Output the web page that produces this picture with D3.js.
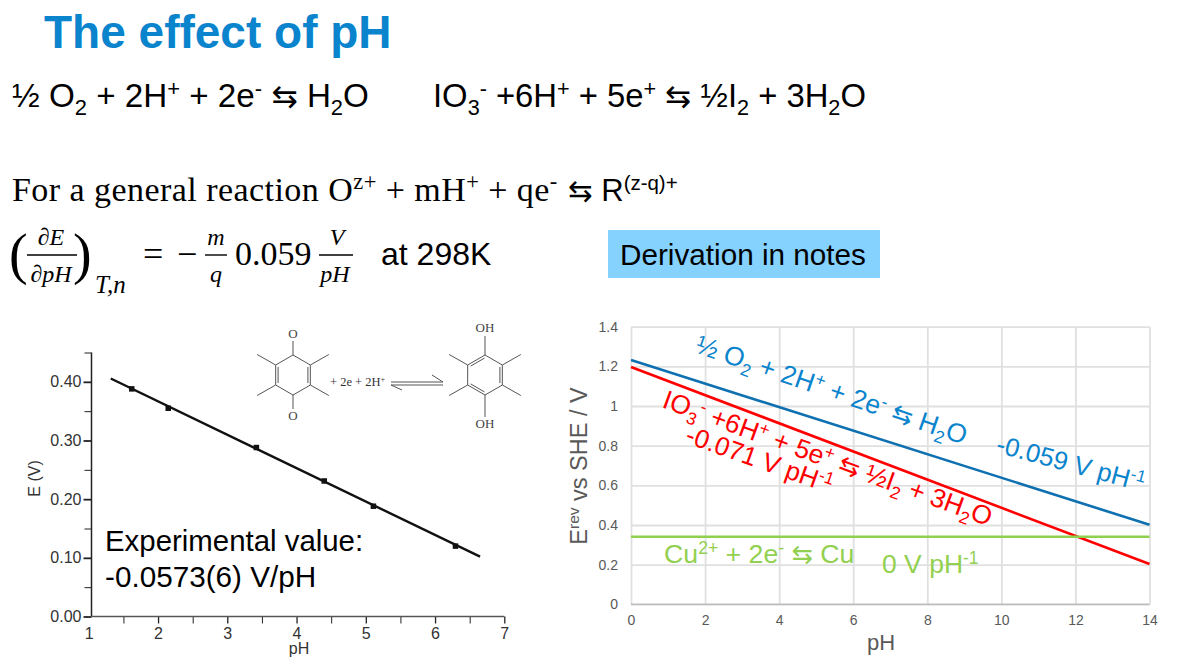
<!DOCTYPE html>
<html>
<head>
<meta charset="utf-8">
<script src="https://cdn.jsdelivr.net/npm/d3@7/dist/d3.min.js"></script>
<style>
  html, body { margin: 0; padding: 0; background: #fff; }
  svg { display: block; font-family: "Liberation Sans", Arial, sans-serif; }
</style>
</head>
<body>
<svg id="slide" width="1180" height="668"></svg>
<script>
// Quinone couple: measured potentials against pH, with the fitted line
const quinonePH = [1.62, 2.147, 3.42, 4.40, 5.11, 6.295];
const quinoneE = [0.388, 0.355, 0.288, 0.231, 0.188, 0.12];
const fitPH = [1.317, 6.65];
const fitE = [0.4057, 0.102];

// Reversible potentials against pH at the ends of the 0-14 range
const rangePH = [0, 14];
const oxygenE = [1.232, 0.401];
const iodateE = [1.197, 0.203];
const copperE = [0.341, 0.341];

// Tick values
const leftXTicks = [1, 2, 3, 4, 5, 6, 7];
const leftXMinor = [1.5, 2.5, 3.5, 4.5, 5.5, 6.5];
const leftYTicks = [0, 0.1, 0.2, 0.3, 0.4];
const leftYMinor = [0.05, 0.15, 0.25, 0.35, 0.45];
const rightXTicks = [0, 2, 4, 6, 8, 10, 12, 14];
const rightYTicks = [0, 0.2, 0.4, 0.6, 0.8, 1, 1.2, 1.4];

const ARROWS = "\u21C6";
const svg = d3.select("#slide");

// Writes a run list [text, kind] as tspans; kind is "sub", "sup", "sym" or empty
function rich(sel, runs, size) {
  const small = size * 0.66;
  let shift = 0;
  runs.forEach(([t, kind]) => {
    const want = kind === "sub" ? size * 0.24 : kind === "sup" ? -size * 0.34 : 0;
    const ts = sel.append("tspan").text(t).attr("dy", want - shift);
    if (kind === "sub" || kind === "sup") ts.attr("font-size", small);
    if (kind === "sym") ts.attr("font-family", "DejaVu Sans").attr("font-size", size * 0.95);
    shift = want;
  });
  return sel;
}

function label(parent, x, y, runs, size, fill, rotate, extra) {
  const t = parent.append("text").attr("font-size", size).attr("fill", fill);
  t.attr("transform", `translate(${x},${y})` + (rotate ? ` rotate(${rotate})` : ""));
  if (extra) Object.entries(extra).forEach(([k, v]) => t.attr(k, v));
  return rich(t, runs, size);
}

// ---- Heading and equations ----
label(svg, 44, 48, [["The effect of pH"]], 46, "#0a84cc", 0, { "font-weight": 700 });

label(svg, 12, 107, [["½ O"], ["2", "sub"], [" + 2H"], ["+", "sup"], [" + 2e"], ["-", "sup"], [" "], [ARROWS, "sym"], [" H"], ["2", "sub"], ["O"]], 33.2, "#000");
label(svg, 433, 107, [["IO"], ["3", "sub"], ["-", "sup"], [" +6H"], ["+", "sup"], [" + 5e"], ["+", "sup"], [" "], [ARROWS, "sym"], [" ½I"], ["2", "sub"], [" + 3H"], ["2", "sub"], ["O"]], 32.8, "#000");

label(svg, 12, 201, [["For a general reaction O"], ["z+", "sup"], [" + mH"], ["+", "sup"], [" + qe"], ["-", "sup"]], 34, "#000", 0, { "font-family": "Liberation Serif", "letter-spacing": 0.45 });
label(svg, 568, 201, [[ARROWS, "sym"], [" R"], ["(z-q)+", "sup"]], 31, "#000");

// Partial derivative expression
const math = svg.append("g").attr("font-family", "Liberation Serif").attr("font-style", "italic").attr("fill", "#000");
const mathText = (x, y, s, size, anchor) => math.append("text").attr("x", x).attr("y", y).attr("font-size", size)
  .attr("text-anchor", anchor || "middle").text(s);
const rule = (x1, x2, y) => math.append("line").attr("x1", x1).attr("x2", x2).attr("y1", y).attr("y2", y)
  .attr("stroke", "#000").attr("stroke-width", 1.4);
mathText(51, 245, "∂E", 24);
rule(27, 77, 255);
mathText(51, 282, "∂pH", 24);
mathText(9, 273, "(", 56, "start").attr("font-style", "normal");
mathText(73, 273, ")", 56, "start").attr("font-style", "normal");
mathText(95, 293, "T,n", 25, "start");
mathText(143, 266, "=", 36, "start").attr("font-style", "normal");
mathText(177, 266, "−", 36, "start").attr("font-style", "normal");
mathText(216, 245, "m", 24);
rule(205, 227, 255);
mathText(216, 282, "q", 24);
mathText(235, 265, "0.059", 34, "start").attr("font-style", "normal");
mathText(337, 245, "V", 24);
rule(319, 353, 255);
mathText(335, 282, "pH", 24);
label(svg, 381, 265, [["at 298K"]], 32, "#000");

// Note box
svg.append("rect").attr("x", 608).attr("y", 230).attr("width", 272).attr("height", 48).attr("fill", "#85d2ff");
label(svg, 620, 265, [["Derivation in notes"]], 29.7, "#000");

// ---- Left chart: quinone couple ----
const lx = d3.scaleLinear().domain([1, 7]).range([88.8, 504.3]);
const ly = d3.scaleLinear().domain([0, 0.45]).range([616.5, 352.5]);
const yAxisX = 91.5;
const left = svg.append("g");

function styleLeftAxis(a, tickWidth) {
  a.selectAll("line").attr("stroke", "#222").attr("stroke-width", tickWidth);
  a.selectAll("text").attr("font-size", 16).attr("fill", "#333").attr("font-family", "Liberation Sans");
  a.select(".domain").remove();
}
const xMinorAxis = left.append("g").attr("transform", `translate(0,${ly(0)})`)
  .call(d3.axisBottom(lx).tickValues(leftXMinor).tickSize(7).tickFormat(""));
styleLeftAxis(xMinorAxis, 1);
const xMajorAxis = left.append("g").attr("transform", `translate(0,${ly(0)})`)
  .call(d3.axisBottom(lx).tickValues(leftXTicks).tickSize(7).tickPadding(4).tickFormat(d3.format("d")));
styleLeftAxis(xMajorAxis, 1.3);
xMajorAxis.selectAll(".tick").filter(d => d === 1).select("line").remove();

const yMinorAxis = left.append("g").attr("transform", `translate(${yAxisX},0)`)
  .call(d3.axisLeft(ly).tickValues(leftYMinor).tickSize(7).tickFormat(""));
styleLeftAxis(yMinorAxis, 1);
const yMajorAxis = left.append("g").attr("transform", `translate(${yAxisX},0)`)
  .call(d3.axisLeft(ly).tickValues(leftYTicks).tickSize(8).tickPadding(2).tickFormat(d3.format(".2f")));
styleLeftAxis(yMajorAxis, 1.8);

// Axis lines run from the corner to the last tick on each side
left.append("line").attr("x1", yAxisX).attr("x2", yAxisX).attr("y1", ly(0.45)).attr("y2", ly(0))
  .attr("stroke", "#222").attr("stroke-width", 1.5);
left.append("line").attr("x1", yAxisX).attr("x2", lx(7)).attr("y1", ly(0)).attr("y2", ly(0))
  .attr("stroke", "#555").attr("stroke-width", 1.6);

left.append("path")
  .datum(d3.zip(fitPH, fitE))
  .attr("d", d3.line().x(d => lx(d[0])).y(d => ly(d[1])))
  .attr("fill", "none").attr("stroke", "#111").attr("stroke-width", 2.4);

const pointSize = 5.5;
left.selectAll("rect.pt").data(d3.zip(quinonePH, quinoneE)).join("rect")
  .attr("class", "pt")
  .attr("x", d => lx(d[0]) - pointSize / 2).attr("y", d => ly(d[1]) - pointSize / 2)
  .attr("width", pointSize).attr("height", pointSize).attr("fill", "#111");

left.append("text").attr("x", 299).attr("y", 654).attr("text-anchor", "middle")
  .attr("font-size", 16).attr("fill", "#333").text("pH");
left.append("text").attr("transform", "translate(40,478.5) rotate(-90)").attr("text-anchor", "middle")
  .attr("font-size", 16).attr("fill", "#333").text("E (V)");

label(left, 105, 551, [["Experimental value:"]], 29.4, "#000");
label(left, 105, 587, [["-0.0573(6) V/pH"]], 29.7, "#000");

// ---- Reaction scheme: duroquinone to durohydroquinone ----
const scheme = svg.append("g");
const bondColor = "#555";
const bond = (x1, y1, x2, y2, w) => scheme.append("line")
  .attr("x1", x1).attr("y1", y1).attr("x2", x2).attr("y2", y2)
  .attr("stroke", bondColor).attr("stroke-width", w || 1);

function molecule(cx, cy, doubleEdges, topLabel, bottomLabel, stems, baselines) {
  const r = 20;
  const verts = d3.range(6).map(i => {
    const a = (i * 60 - 90) * Math.PI / 180;
    return [cx + r * Math.cos(a), cy + r * Math.sin(a)];
  });
  verts.forEach((v, i) => {
    const w = verts[(i + 1) % 6];
    bond(v[0], v[1], w[0], w[1]);
    if (doubleEdges.includes(i)) {
      const ix = cx + (v[0] + w[0] - 2 * cx) * 0.43, iy = cy + (v[1] + w[1] - 2 * cy) * 0.43;
      const dx = (w[0] - v[0]) * 0.4, dy = (w[1] - v[1]) * 0.4;
      bond(ix - dx, iy - dy, ix + dx, iy + dy);
    }
  });
  // Methyl substituents on the four side carbons
  [1, 2, 4, 5].forEach(i => {
    const v = verts[i];
    const sx = Math.sign(v[0] - cx), sy = Math.sign(v[1] - cy);
    bond(v[0], v[1], v[0] + sx * 18.5, v[1] + sy * 10.5);
  });
  // Heteroatom bonds at the top and bottom carbons
  bond(verts[0][0], verts[0][1], cx, cy - r - stems[0]);
  bond(verts[3][0], verts[3][1], cx, cy + r + stems[1]);
  [[topLabel, cy + baselines[0]], [bottomLabel, cy + baselines[1]]].forEach(([s, y]) => {
    scheme.append("text").attr("x", cx).attr("y", y).attr("text-anchor", "middle")
      .attr("font-family", "Liberation Serif").attr("font-size", 13).attr("fill", "#444").text(s);
  });
}
molecule(293, 375, [1, 4], "O", "O", [14, 14], [-37, 45]);
molecule(485, 375, [5, 1, 3], "OH", "OH", [19, 22], [-43, 53]);

label(scheme, 330, 386, [["+ 2e + 2H"], ["+", "sup"]], 12.5, "#333", 0, { "font-family": "Liberation Serif" });
bond(391, 382, 443, 382, 1.2);
bond(391, 385, 443, 385, 1.2);
bond(443, 382, 432, 375);
bond(391, 385, 402, 390);

// ---- Right chart: reversible potentials ----
const rx = d3.scaleLinear().domain([0, 14]).range([631, 1149.5]);
const ry = d3.scaleLinear().domain([0, 1.4]).range([604.3, 326.7]);
const right = svg.append("g");

const xGrid = right.append("g").attr("transform", `translate(0,${ry(0)})`)
  .call(d3.axisBottom(rx).tickValues(rightXTicks).tickSize(-(ry(0) - ry(1.4))).tickPadding(11).tickFormat(d3.format("d")));
const yGrid = right.append("g").attr("transform", `translate(${rx(0)},0)`)
  .call(d3.axisLeft(ry).tickValues(rightYTicks).tickSize(-(rx(14) - rx(0))).tickPadding(13).tickFormat(d => d));
[xGrid, yGrid].forEach(a => {
  a.select(".domain").remove();
  a.selectAll("line").attr("stroke", "#e0e0e0").attr("stroke-width", 1.8);
  a.selectAll("text").attr("font-size", 14).attr("fill", "#595959").attr("font-family", "Liberation Sans");
});
right.append("line").attr("x1", rx(0)).attr("x2", rx(14)).attr("y1", ry(0)).attr("y2", ry(0))
  .attr("stroke", "#bdbdbd").attr("stroke-width", 1.6);

const potentialLine = d3.line().x(d => rx(d[0])).y(d => ry(d[1]));
[[oxygenE, "#0e70b0"], [iodateE, "#ff0000"], [copperE, "#8fd14f"]].forEach(([vals, colour]) => {
  right.append("path").datum(d3.zip(rangePH, vals)).attr("d", potentialLine)
    .attr("fill", "none").attr("stroke", colour).attr("stroke-width", 2.6);
});

const BLUE = "#0a84cc", RED = "#ff0000", GREEN = "#92d050";
label(right, 694, 352, [["½ O"], ["2", "sub"], [" + 2H"], ["+", "sup"], [" + 2e"], ["-", "sup"], [" "], [ARROWS, "sym"], [" H"], ["2", "sub"], ["O"]], 26.5, BLUE, 19);
label(right, 995, 452, [["-0.059 V pH"], ["-1", "sup"]], 25.7, BLUE, 15);
label(right, 661, 407, [["IO"], ["3", "sub"], ["-", "sup"], [" +6H"], ["+", "sup"], [" + 5e"], ["+", "sup"], [" "], [ARROWS, "sym"], [" ½I"], ["2", "sub"], [" + 3H"], ["2", "sub"], ["O"]], 26.4, RED, 20);
label(right, 684, 442, [["-0.071 V pH"], ["-1", "sup"]], 26, RED, 19.5);
label(right, 664, 563, [["Cu"], ["2+", "sup"], [" + 2e"], ["-", "sup"], [" "], [ARROWS, "sym"], [" Cu"]], 26.7, GREEN);
label(right, 882, 573, [["0 V pH"], ["-1", "sup"]], 26.5, GREEN);

label(right, 881, 650, [["pH"]], 22, "#595959", 0, { "text-anchor": "middle" });
label(right, 587, 466, [["E"], ["rev", "sup"], [" vs SHE / V"]], 23.5, "#595959", -90, { "text-anchor": "middle" });
</script>
</body>
</html>
